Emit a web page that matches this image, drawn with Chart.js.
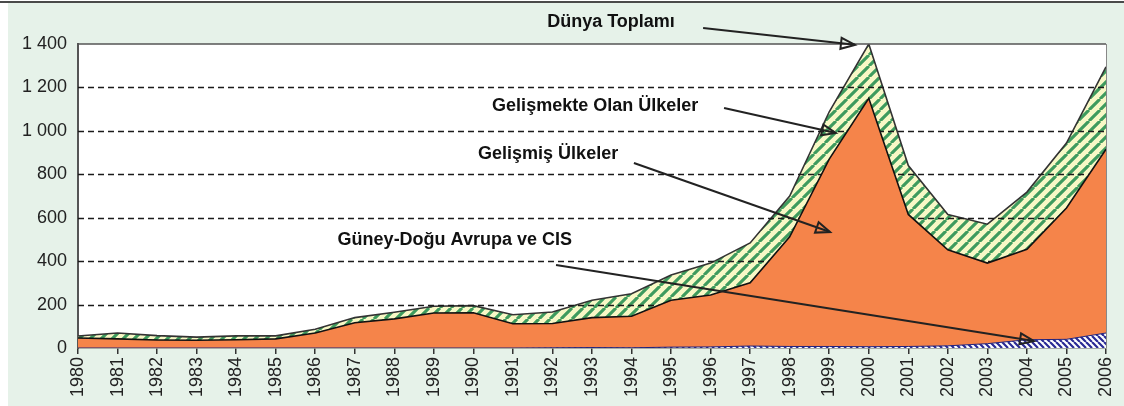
<!DOCTYPE html>
<html>
<head>
<meta charset="utf-8">
<script src="https://cdn.jsdelivr.net/npm/chart.js@4.4.1/dist/chart.umd.min.js"></script>
<style>
  html, body { margin: 0; padding: 0; background: #fff; }
  #wrap { width: 1124px; height: 406px; }
</style>
</head>
<body>
<div id="wrap"><canvas id="fdiChart" width="1124" height="406"></canvas></div>
<script>
// veriler (milyar $), katmanlar ust uste yigilir
const years = ['1980', '1981', '1982', '1983', '1984', '1985', '1986', '1987', '1988', '1989',
  '1990', '1991', '1992', '1993', '1994', '1995', '1996', '1997', '1998', '1999',
  '2000', '2001', '2002', '2003', '2004', '2005', '2006'];
const cisValues = [0, 0, 0, 0, 0, 0, 0, 0, 0, 0, 0, 0, 1, 2, 1, 4, 5, 9, 7, 7, 6, 7, 10, 20, 38, 40, 69];
const developedValues = [46, 42, 37, 36, 38, 42, 69, 116, 134, 161, 162, 112, 112, 138, 145, 216, 239, 291, 505, 863, 1144, 608, 442, 371, 417, 605, 846];
const developingValues = [9, 27, 20, 14, 18, 14, 17, 24, 31, 31, 33, 41, 53, 80, 104, 116, 147, 184, 188, 218, 250, 225, 163, 179, 263, 299, 380];
const yTicks = [0, 200, 400, 600, 800, 1000, 1200, 1400];

// etiketler ve oklar (x: yil sirasi, y: deger)
const notes = [
  { text: 'Dünya Toplamı', at: [13.48, 1502], from: [15.81, 1474], to: [19.65, 1396] },
  { text: 'Gelişmekte Olan Ülkeler', at: [13.08, 1115], from: [16.34, 1105], to: [19.17, 990] },
  { text: 'Gelişmiş Ülkeler', at: [11.89, 894], from: [14.06, 852], to: [19.02, 534] },
  { text: 'Güney-Doğu Avrupa ve CIS', at: [9.53, 497], from: [12.09, 382], to: [24.18, 32] }
];

const FONT = "'Liberation Sans', Arial, sans-serif";

function makeStripes(size, bg, fg, width, dir) {
  const c = document.createElement('canvas');
  c.width = size; c.height = size;
  const g = c.getContext('2d');
  g.fillStyle = bg;
  g.fillRect(0, 0, size, size);
  g.strokeStyle = fg;
  g.lineWidth = width;
  g.beginPath();
  for (let k = -1; k <= 1; k++) {
    if (dir === '/') { g.moveTo(k * size, size); g.lineTo(k * size + size, 0); }
    else { g.moveTo(k * size, 0); g.lineTo(k * size + size, size); }
  }
  g.stroke();
  return g.createPattern(c, 'repeat');
}

const greenHatch = makeStripes(11, '#f8f8c6', '#3e9b5e', 3.1, '/');
const blueHatch = makeStripes(6, '#ffffff', '#2a2a95', 2.2, '\\');

// arka plan
const backdrop = {
  id: 'backdrop',
  beforeDraw(chart) {
    const { ctx, chartArea: a, width, height } = chart;
    ctx.save();
    ctx.fillStyle = '#ffffff';
    ctx.fillRect(0, 0, width, height);
    ctx.fillStyle = '#e6f2e9';
    ctx.fillRect(8, 3, width - 8, height - 3);
    ctx.strokeStyle = '#4a4a4a';
    ctx.lineWidth = 2;
    ctx.beginPath(); ctx.moveTo(0, 2); ctx.lineTo(width, 2); ctx.stroke();
    ctx.fillStyle = '#ffffff';
    ctx.fillRect(a.left, a.top, a.right - a.left, a.bottom - a.top);
    ctx.restore();
  }
};

// kesikli cizgiler yesil alanin ustunde, turuncu alanin altinda
const dashedGrid = {
  id: 'dashedGrid',
  afterDatasetDraw(chart, args) {
    if (args.index !== 2) return;
    const { ctx, chartArea: a } = chart;
    const y = chart.scales.y;
    ctx.save();
    ctx.strokeStyle = '#1a1a1a';
    ctx.lineWidth = 1.3;
    ctx.setLineDash([6, 4]);
    yTicks.forEach(v => {
      if (v === 0 || v === 1400) return;
      const py = Math.round(y.getPixelForValue(v)) + 0.5;
      ctx.beginPath(); ctx.moveTo(a.left, py); ctx.lineTo(a.right, py); ctx.stroke();
    });
    ctx.restore();
  },
  afterDatasetsDraw(chart) {
    const { ctx, chartArea: a } = chart;
    ctx.save();
    ctx.strokeStyle = '#555';
    ctx.lineWidth = 1.6;
    ctx.beginPath(); ctx.moveTo(a.left, a.top); ctx.lineTo(a.right, a.top); ctx.stroke();
    ctx.lineWidth = 1;
    ctx.strokeStyle = '#888';
    ctx.beginPath(); ctx.moveTo(a.right + 0.5, a.top); ctx.lineTo(a.right + 0.5, a.bottom); ctx.stroke();
    ctx.restore();
  }
};

function arrowHead(ctx, x1, y1, x2, y2) {
  const ang = Math.atan2(y2 - y1, x2 - x1);
  const len = 14, half = 5.5;
  const bx = x2 - len * Math.cos(ang), by = y2 - len * Math.sin(ang);
  ctx.beginPath();
  ctx.moveTo(x2, y2);
  ctx.lineTo(bx + half * Math.sin(ang), by - half * Math.cos(ang));
  ctx.lineTo(bx - half * Math.sin(ang), by + half * Math.cos(ang));
  ctx.closePath();
  ctx.stroke();
}

const callouts = {
  id: 'callouts',
  afterDraw(chart) {
    const { ctx } = chart;
    const xs = chart.scales.x, ys = chart.scales.y;
    const px = p => [xs.getPixelForValue(p[0]), ys.getPixelForValue(p[1])];
    ctx.save();
    ctx.fillStyle = '#111';
    ctx.font = 'bold 18px ' + FONT;
    ctx.textAlign = 'center';
    ctx.textBaseline = 'middle';
    notes.forEach(n => {
      const t = px(n.at);
      ctx.fillText(n.text, t[0], t[1]);
      const s = px(n.from), e = px(n.to);
      ctx.strokeStyle = '#222';
      ctx.lineWidth = 2;
      ctx.lineJoin = 'miter';
      ctx.beginPath(); ctx.moveTo(s[0], s[1]); ctx.lineTo(e[0], e[1]); ctx.stroke();
      arrowHead(ctx, s[0], s[1], e[0], e[1]);
    });
    ctx.restore();
  }
};

const ctx = document.getElementById('fdiChart').getContext('2d');
const fdiChart = new Chart(ctx, {
  type: 'line',
  data: {
    labels: years,
    datasets: [
      {
        label: 'Güney-Doğu Avrupa ve CIS',
        data: cisValues,
        backgroundColor: blueHatch,
        borderColor: '#22227a',
        borderWidth: 1,
        fill: 'origin'
      },
      {
        label: 'Gelişmiş Ülkeler',
        data: developedValues,
        backgroundColor: '#f5844a',
        borderColor: '#111',
        borderWidth: 1.6,
        fill: '-1'
      },
      {
        label: 'Gelişmekte Olan Ülkeler',
        data: developingValues,
        backgroundColor: greenHatch,
        borderColor: '#333',
        borderWidth: 1.6,
        fill: '-1'
      }
    ]
  },
  options: {
    responsive: false,
    animation: false,
    devicePixelRatio: 1,
    layout: { padding: { left: 0, top: 44, right: 18, bottom: 0 } },
    elements: { point: { radius: 0 }, line: { tension: 0 } },
    plugins: { legend: { display: false }, tooltip: { enabled: false } },
    scales: {
      x: {
        offset: false,
        grid: { drawOnChartArea: false, drawTicks: true, tickLength: 6, color: '#333', lineWidth: 1.5 },
        border: { display: true, color: '#666', width: 1.5 },
        ticks: {
          autoSkip: false, maxRotation: 90, minRotation: 90, padding: 3,
          color: '#222', font: { family: FONT, size: 18 }
        },
        afterFit(scale) {
          scale.height = 58;
          scale.paddingLeft = 0;
          scale.paddingRight = 0;
        }
      },
      y: {
        stacked: true,
        min: 0,
        max: 1400,
        grid: { display: false },
        border: { display: true, color: '#555', width: 2 },
        ticks: {
          stepSize: 200, padding: 3, color: '#222', font: { family: FONT, size: 18 },
          callback: v => v >= 1000 ? Math.floor(v / 1000) + ' ' + String(v % 1000).padStart(3, '0') : String(v)
        },
        afterFit(scale) { scale.width = 78; }
      }
    }
  },
  plugins: [backdrop, dashedGrid, callouts]
});
</script>
</body>
</html>
